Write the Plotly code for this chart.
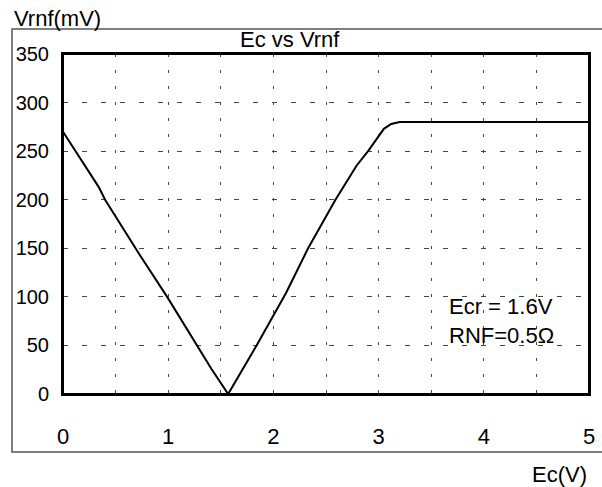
import plotly.graph_objects as go

# Ec (V) vs Vrnf (mV)
ec = [0, 0.34, 0.40, 0.73, 0.99, 1.26, 1.35, 1.41, 1.57, 1.84, 2.12, 2.33,
      2.59, 2.73, 2.79, 2.90, 3.00, 3.05, 3.12, 3.20, 5.0]
vrnf = [270, 213, 200, 143, 100, 52, 36, 26, 0, 50, 104, 150,
        200, 224, 235, 250, 266, 273, 278, 280, 280]

x_ticks = [0, 0.5, 1, 1.5, 2, 2.5, 3, 3.5, 4, 4.5, 5]
x_labels = ["0", "", "1", "", "2", "", "3", "", "4", "", "5"]
y_ticks = [0, 50, 100, 150, 200, 250, 300, 350]

FONT = "Liberation Sans, Arial, sans-serif"

fig = go.Figure()
fig.add_trace(go.Scatter(x=ec, y=vrnf, mode="lines",
                         line=dict(color="black", width=2), showlegend=False))

fig.update_xaxes(
    range=[0, 5], tickvals=x_ticks, ticktext=x_labels, automargin=False,
    showline=True, mirror=True, linecolor="black", linewidth=2,
    showgrid=True, gridcolor="#444", gridwidth=1, griddash="3px,13px",
    zeroline=False, ticks="", ticklabelstandoff=22,
    tickfont=dict(family=FONT, size=22, color="black"),
)
fig.update_yaxes(
    range=[0, 350], tickvals=y_ticks, automargin=False,
    showline=True, mirror=True, linecolor="black", linewidth=2,
    showgrid=True, gridcolor="#444", gridwidth=1, griddash="5px,14px",
    zeroline=False, ticks="", ticklabelstandoff=8,
    tickfont=dict(family=FONT, size=20, color="black"),
)

# outer frame around the whole chart, plus the plot box itself
fig.add_shape(type="rect", xref="paper", yref="paper",
              x0=-0.097, x1=1.04, y0=-0.1706, y1=1.0735,
              line=dict(color="#555", width=1.5), layer="below")
fig.add_shape(type="rect", xref="paper", yref="paper",
              x0=0, x1=1, y0=0, y1=1,
              line=dict(color="black", width=2))

fig.add_annotation(text="Ec vs Vrnf", xref="paper", yref="paper", x=0.432, y=1.0,
                   xanchor="center", yanchor="bottom", showarrow=False,
                   font=dict(family=FONT, size=22, color="black"))
fig.add_annotation(text="Vrnf(mV)", xref="paper", yref="paper", x=-0.097, y=1.075,
                   xanchor="left", yanchor="bottom", showarrow=False, yshift=-4,
                   font=dict(family=FONT, size=22, color="black"))
fig.add_annotation(text="Ec(V)", xref="paper", yref="paper", x=1.0, y=-0.195,
                   xanchor="right", yanchor="top", showarrow=False,
                   font=dict(family=FONT, size=22, color="black"))
fig.add_annotation(text="Ecr = 1.6V<br>RNF=0.5Ω", xref="paper", yref="paper",
                   x=0.73, y=0.30, xanchor="left", yanchor="top", align="left",
                   showarrow=False,
                   font=dict(family=FONT, size=22, color="black"))

fig.update_layout(
    width=602, height=487,
    margin=dict(l=63, r=13, t=54, b=93),
    paper_bgcolor="white", plot_bgcolor="white",
)

# drop the default body margin so the figure fills the window
fig.write_html("out.html", config={"displayModeBar": False},
               post_script="document.body.style.margin='0';document.body.style.overflow='hidden';")
